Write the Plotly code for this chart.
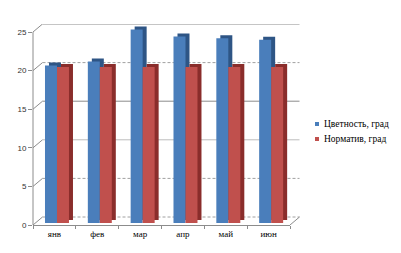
import plotly.graph_objects as go

# ---- data ----
months = ["янв", "фев", "мар", "апр", "май", "июн"]
color_vals = [20.2, 20.7, 24.8, 23.9, 23.7, 23.5]   # Цветность, град
norm_vals = [20, 20, 20, 20, 20, 20]                # Норматив, град
series_names = ["Цветность, град", "Норматив, град"]
y_ticks = [0, 5, 10, 15, 20, 25]

# ---- geometry helpers (pixel layout) ----
W, H = 401, 253
L, R, T, B = 33, 111, 24, 28
plot_w = W - L - R
plot_h = H - T - B
px_per_unit = 7.72          # front axis scale
bar_px_per_unit = 7.8       # bar (mid-depth) scale
y_top = plot_h / px_per_unit
y2_bottom = -2 / bar_px_per_unit
y2_top = y2_bottom + plot_h / bar_px_per_unit

dx_back = 9.5 / plot_w       # 3D depth offset (paper x)
dy_back = 8 / px_per_unit    # 3D depth offset (y units)

cat_px = plot_w / len(months)
shadow_dx = 4 / cat_px
shadow_dy = 3 / bar_px_per_unit

blue, blue_dark = "#4A7EBB", "#2E5585"
red, red_dark = "#C0504D", "#8A2D2B"
bw = 0.28
blue_off, red_off = -0.22, 0.06
serif = "Liberation Serif, Times New Roman, serif"

fig = go.Figure()
# side/top "3D" faces drawn behind the fronts
fig.add_trace(go.Bar(x=months, y=color_vals, base=[shadow_dy] * len(months), width=bw,
                     offset=blue_off + shadow_dx, marker=dict(color=blue_dark, line_width=0),
                     yaxis="y2", showlegend=False, hoverinfo="skip", cliponaxis=False))
fig.add_trace(go.Bar(x=months, y=color_vals, width=bw, offset=blue_off, name=series_names[0],
                     marker=dict(color=blue, line_width=0), yaxis="y2", showlegend=False,
                     cliponaxis=False))
fig.add_trace(go.Bar(x=months, y=norm_vals, base=[shadow_dy] * len(months), width=bw,
                     offset=red_off + shadow_dx, marker=dict(color=red_dark, line_width=0),
                     yaxis="y2", showlegend=False, hoverinfo="skip", cliponaxis=False))
fig.add_trace(go.Bar(x=months, y=norm_vals, width=bw, offset=red_off, name=series_names[1],
                     marker=dict(color=red, line_width=0), yaxis="y2", showlegend=False,
                     cliponaxis=False))

shapes = []
styles = {0: ("3px,2px", "#a0a0a0"), 5: ("3px,2px", "#a0a0a0"), 10: ("solid", "#bdbdbd"),
          15: ("solid", "#8c8c8c"), 20: ("3px,2px", "#a0a0a0"), 25: ("solid", "#8c8c8c")}
for v in y_ticks:
    dash, col = styles[v]
    shapes.append(dict(type="line", xref="paper", yref="y", x0=0, x1=dx_back, y0=v, y1=v + dy_back,
                       line=dict(color="#8c8c8c", width=1), layer="below"))
    shapes.append(dict(type="line", xref="paper", yref="y", x0=dx_back, x1=1 + dx_back,
                       y0=v + dy_back, y1=v + dy_back, line=dict(color=col, width=1, dash=dash),
                       layer="below"))
# right floor edge
shapes.append(dict(type="line", xref="paper", yref="y", x0=1, x1=1 + dx_back, y0=0, y1=dy_back,
                   line=dict(color="#8c8c8c", width=1), layer="below"))
# front y axis line
shapes.append(dict(type="line", xref="paper", yref="y", x0=0, x1=0, y0=0, y1=25,
                   line=dict(color="#8c8c8c", width=1), layer="below"))

# manual legend
leg_y = [(225 - 124) / plot_h, (225 - 139) / plot_h]
for i, (nm, col) in enumerate(zip(series_names, [blue, red])):
    x0 = (315 - L) / plot_w
    x1 = (319 - L) / plot_w
    hy = 2 / plot_h
    shapes.append(dict(type="rect", xref="paper", yref="paper", x0=x0, x1=x1,
                       y0=leg_y[i] - hy, y1=leg_y[i] + hy, fillcolor=col, line_width=0))
annotations = [dict(xref="paper", yref="paper", x=(322 - L) / plot_w, y=leg_y[i], text=nm,
                    showarrow=False, xanchor="left", yanchor="middle",
                    font=dict(family=serif, size=9.5, color="#000000"))
               for i, nm in enumerate(series_names)]

fig.update_layout(
    width=W, height=H, margin=dict(l=L, r=R, t=T, b=B, pad=0),
    paper_bgcolor="white", plot_bgcolor="white",
    barmode="overlay", showlegend=False,
    shapes=shapes, annotations=annotations,
    xaxis=dict(type="category", range=[-0.5, len(months) - 0.5], showgrid=False,
               showline=True, linecolor="#8c8c8c", linewidth=1,
               ticks="outside", tickson="boundaries", ticklen=3, tickcolor="#8c8c8c",
               tickfont=dict(family=serif, size=9, color="#000000"), zeroline=False),
    yaxis=dict(range=[0, y_top], tickvals=y_ticks, showgrid=False, showline=False,
               ticks="outside", ticklen=4, tickcolor="#8c8c8c", zeroline=False,
               tickfont=dict(family="Liberation Sans, Arial, sans-serif", size=8, color="#333333")),
    yaxis2=dict(range=[y2_bottom, y2_top], overlaying="y", visible=False, showgrid=False,
                zeroline=False),
)
fig.write_html("out.html")
